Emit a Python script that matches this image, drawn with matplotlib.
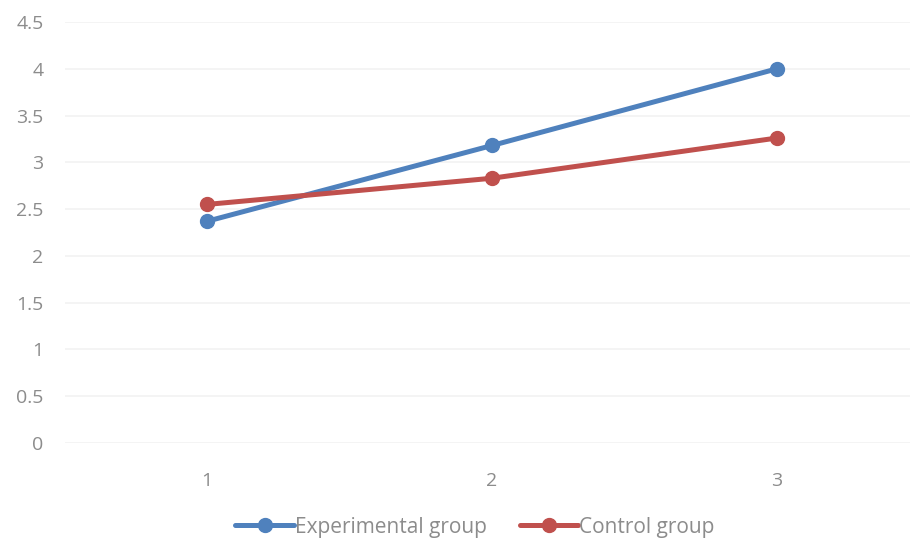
import numpy as np
import matplotlib
matplotlib.use('Agg')
import matplotlib.pyplot as plt

plt.rcParams['font.family'] = ['Open Sans', 'DejaVu Sans']

categories = ['1', '2', '3']
experimental = [2.37, 3.18, 4.0]
control = [2.55, 2.83, 3.26]

blue = '#4f81bd'
red = '#c0504d'
grey = '#8c8c8c'

fig = plt.figure(figsize=(9.10, 5.39), dpi=100)
ax = fig.add_axes([64.5 / 910, 1 - 443 / 539, 855 / 910, 421 / 539])

x = np.arange(1, len(categories) + 1)
ax.plot(x, experimental, color=blue, lw=3.6, marker='o', ms=10,
        solid_capstyle='round', label='Experimental group', zorder=3)
ax.plot(x, control, color=red, lw=3.6, marker='o', ms=10,
        solid_capstyle='round', label='Control group', zorder=3)

ax.set_xlim(0.5, 3.5)
ax.set_ylim(0, 4.5)
ax.set_xticks(x)
ax.set_xticklabels(categories)
ax.set_yticks(np.arange(0, 4.51, 0.5))
ax.set_yticklabels(['0', '0.5', '1', '1.5', '2', '2.5', '3', '3.5', '4', '4.5'])

ax.grid(axis='y', color='#f2f2f2', lw=1.2)
ax.set_axisbelow(True)
for s in ax.spines.values():
    s.set_visible(False)
ax.tick_params(axis='both', length=0, labelsize=14, colors=grey)
ax.tick_params(axis='y', pad=15)
ax.tick_params(axis='x', pad=21)

leg = fig.legend(loc='center', bbox_to_anchor=(475 / 910, 1 - 527 / 539), ncol=2,
                 frameon=False, fontsize=15, handlelength=2.8,
                 handletextpad=0.05, columnspacing=1.6)
for t in leg.get_texts():
    t.set_color(grey)

fig.savefig('out.png', dpi=100)
